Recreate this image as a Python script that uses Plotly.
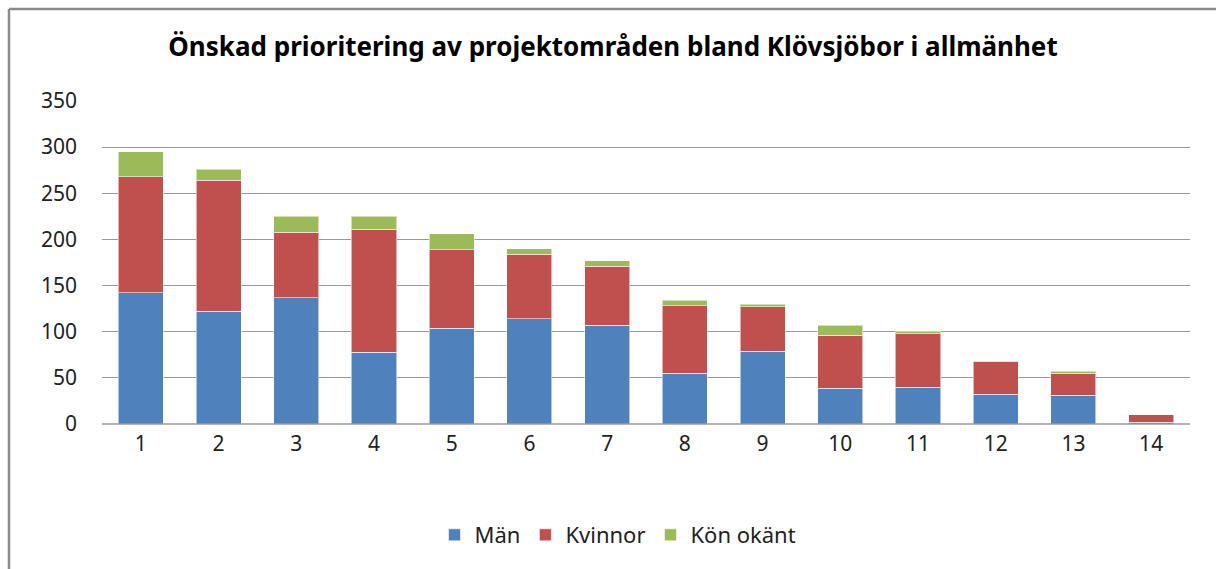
import plotly.graph_objects as go

categories = [str(i) for i in range(1, 15)]
man = [142, 122, 137, 78, 104, 114, 107, 55, 79, 39, 40, 32, 31, 2]
kvinnor = [126, 142, 71, 133, 85, 70, 64, 73, 48, 57, 58, 36, 24, 8]
okant = [27, 12, 17, 14, 17, 6, 6, 6, 3, 11, 2, 0, 2, 0]
series_names = ["Män", "Kvinnor", "Kön okänt"]
colors = ["#4F81BD", "#C0504D", "#9BBB59"]
y_ticks = [0, 50, 100, 150, 200, 250, 300, 350]

W, H = 1216, 569
L, T = 102, 101
R = W - 1190
B = H - 424
pw, ph = W - L - R, H - T - B

font = "Noto Sans, Open Sans, DejaVu Sans, sans-serif"

fig = go.Figure()
for name, vals, c in zip(series_names, [man, kvinnor, okant], colors):
    fig.add_trace(go.Bar(
        x=categories, y=vals, name=name,
        marker=dict(color=c, line=dict(color="rgba(255,255,255,0.55)", width=1)),
    ))

def px_x(p):
    return (p - L) / pw

def px_y(p):
    return 1 - (p - T) / ph

fig.update_layout(
    width=W, height=H,
    barmode="stack", bargap=0.42,
    margin=dict(l=L, r=R, t=T, b=B),
    paper_bgcolor="white", plot_bgcolor="white",
    font=dict(family=font, size=21, color="#222222"),
    title=dict(
        text="<b>Önskad prioritering av projektområden bland Klövsjöbor i allmänhet</b>",
        x=613 / W, xanchor="center", y=1 - 47 / H, yanchor="middle",
        font=dict(family=font, size=26, color="#000000"),
    ),
    xaxis=dict(showgrid=False, showline=False, ticks="", ticklabelstandoff=5,
               tickfont=dict(size=21)),
    yaxis=dict(range=[0, 350], tickvals=y_ticks, showgrid=True,
               gridcolor="#9a9a9a", gridwidth=1.3, zeroline=False,
               showline=False, ticks="", ticklabelstandoff=24,
               tickfont=dict(size=21)),
    legend=dict(orientation="h", x=px_x(618), xanchor="center",
                y=px_y(535), yanchor="middle",
                font=dict(size=22), traceorder="normal",
                itemwidth=30),
    showlegend=True,
    shapes=[
        dict(type="line", xref="paper", yref="paper",
             x0=px_x(9), x1=px_x(1300), y0=px_y(9), y1=px_y(9),
             line=dict(color="#8c8c8c", width=2.5)),
        dict(type="line", xref="paper", yref="paper",
             x0=px_x(9), x1=px_x(9), y0=px_y(9), y1=px_y(700),
             line=dict(color="#8c8c8c", width=2.5)),
        dict(type="line", xref="paper", yref="paper",
             x0=0, x1=1, y0=0, y1=0,
             line=dict(color="#9a9a9a", width=1.5)),
    ],
)

fig.write_html(
    "out.html",
    config={"displayModeBar": False},
    post_script=(
        "document.body.style.margin='0';"
        "document.body.style.overflow='hidden';"
        "document.documentElement.style.overflow='hidden';"
    ),
)
